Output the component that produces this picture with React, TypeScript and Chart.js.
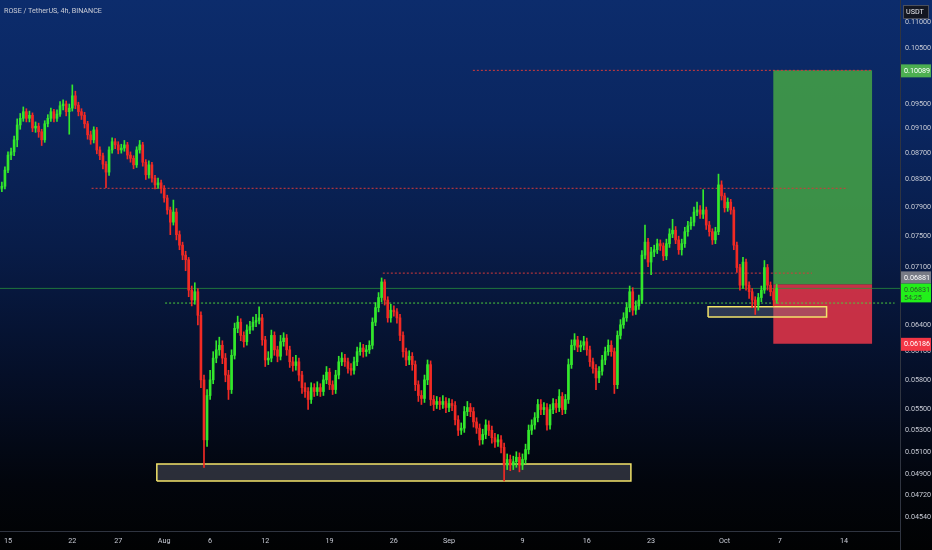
import React, { useEffect, useRef } from "react";
import { Chart, registerables } from "chart.js";

Chart.register(...registerables);

// ---------- DATA ----------
// 8-hour candles, candle 0 = 14 Jul 00:00 ; x values are days relative to 15 Jul
const FIRST_CANDLE_DAY = -1;
const CANDLE_STEP_DAYS = 1 / 3;
const FIRST_OPEN = 0.0815;

const closes = [
  0.0817, 0.082, 0.0844, 0.0867, 0.0872, 0.0891, 0.0915, 0.0926, 0.0937, 0.0926,
  0.0931, 0.091, 0.0913, 0.0904, 0.0891, 0.0917, 0.0926, 0.0937, 0.0926, 0.0933,
  0.0947, 0.095, 0.0937, 0.0943, 0.0964, 0.0948, 0.0937, 0.0931, 0.0917, 0.0899,
  0.0891, 0.0907, 0.0875, 0.0866, 0.0853, 0.0841, 0.0875, 0.0888, 0.0883, 0.0875,
  0.0878, 0.0883, 0.0867, 0.0862, 0.0852, 0.0875, 0.0883, 0.0856, 0.0837, 0.0852,
  0.0832, 0.0822, 0.0825, 0.0817, 0.0803, 0.0786, 0.0769, 0.0783, 0.0752, 0.0738,
  0.0725, 0.0719, 0.0681, 0.0669, 0.0679, 0.0651, 0.058, 0.0521, 0.0564, 0.058,
  0.0603, 0.0612, 0.0617, 0.0603, 0.0585, 0.057, 0.0606, 0.0636, 0.0643, 0.0628,
  0.0621, 0.0634, 0.0638, 0.0643, 0.0645, 0.0648, 0.0623, 0.0601, 0.0603, 0.0628,
  0.0612, 0.0605, 0.0621, 0.0625, 0.0612, 0.0599, 0.0595, 0.0599, 0.0585, 0.0572,
  0.0568, 0.056, 0.0572, 0.0568, 0.0572, 0.0568, 0.058, 0.0588, 0.0575, 0.057,
  0.0585, 0.0599, 0.0603, 0.0599, 0.0592, 0.059, 0.0599, 0.061, 0.0614, 0.061,
  0.0612, 0.0617, 0.0643, 0.066, 0.0672, 0.0691, 0.0669, 0.0648, 0.0657, 0.0655,
  0.0648, 0.0628, 0.061, 0.0601, 0.0605, 0.0596, 0.0575, 0.0564, 0.0561, 0.058,
  0.0596, 0.056, 0.0555, 0.0558, 0.0555, 0.0558, 0.0552, 0.0556, 0.0554, 0.054,
  0.053, 0.0532, 0.0548, 0.0552, 0.0548, 0.0538, 0.0532, 0.0521, 0.0526, 0.0535,
  0.053, 0.0523, 0.0519, 0.0521, 0.0514, 0.0498, 0.0503, 0.0498, 0.0501, 0.0505,
  0.0498, 0.0503, 0.0512, 0.053, 0.0535, 0.0542, 0.0555, 0.055, 0.0552, 0.0535,
  0.055, 0.0556, 0.0552, 0.0563, 0.055, 0.056, 0.0596, 0.0617, 0.0623, 0.0615,
  0.0617, 0.0621, 0.0612, 0.0599, 0.0592, 0.0582, 0.0589, 0.0601, 0.061, 0.0617,
  0.061, 0.0575, 0.0628, 0.064, 0.0648, 0.066, 0.0679, 0.0657, 0.0662, 0.0669,
  0.0725, 0.0742, 0.0716, 0.0729, 0.0732, 0.074, 0.0737, 0.0724, 0.074, 0.0753,
  0.0758, 0.0745, 0.0732, 0.074, 0.0756, 0.0764, 0.0769, 0.0783, 0.0786, 0.078,
  0.0786, 0.0765, 0.0756, 0.0745, 0.0756, 0.0822, 0.0806, 0.0789, 0.0797, 0.0786,
  0.0738, 0.0709, 0.0687, 0.0716, 0.0687, 0.0679, 0.0669, 0.0663, 0.0672, 0.0681,
  0.0709, 0.0687, 0.0679, 0.0669, 0.06831,
];

const highs = [
  0.0822, 0.0826, 0.0849, 0.0872, 0.0878, 0.0897, 0.0925, 0.0934, 0.0945, 0.0942,
  0.0938, 0.0935, 0.092, 0.0918, 0.0908, 0.0922, 0.0932, 0.0943, 0.0941, 0.094,
  0.0954, 0.0957, 0.0955, 0.095, 0.0983, 0.0972, 0.0953, 0.0942, 0.0936, 0.0921,
  0.0905, 0.0912, 0.0911, 0.088, 0.087, 0.0857, 0.088, 0.0894, 0.0893, 0.0888,
  0.0884, 0.089, 0.0887, 0.0872, 0.0866, 0.088, 0.089, 0.0887, 0.086, 0.0858,
  0.0856, 0.0836, 0.0832, 0.0829, 0.0821, 0.0807, 0.079, 0.08, 0.0788, 0.0757,
  0.0742, 0.073, 0.0722, 0.0686, 0.069, 0.0683, 0.0655, 0.0585, 0.057, 0.059,
  0.061, 0.0622, 0.0626, 0.0622, 0.0608, 0.059, 0.0612, 0.0642, 0.065, 0.0647,
  0.0632, 0.064, 0.0644, 0.0649, 0.0652, 0.0661, 0.0652, 0.0627, 0.061, 0.0634,
  0.0632, 0.0616, 0.0628, 0.0631, 0.0629, 0.0616, 0.0604, 0.0606, 0.0603, 0.0589,
  0.0577, 0.0572, 0.0577, 0.0576, 0.0578, 0.0576, 0.0585, 0.0594, 0.0592, 0.0579,
  0.059, 0.0605, 0.0609, 0.0607, 0.0603, 0.0597, 0.0604, 0.0615, 0.062, 0.0618,
  0.0617, 0.0622, 0.0648, 0.0666, 0.0678, 0.0696, 0.0694, 0.0673, 0.0664, 0.0662,
  0.0659, 0.0652, 0.0632, 0.0614, 0.0611, 0.0609, 0.06, 0.0579, 0.0569, 0.0585,
  0.0601, 0.06, 0.0564, 0.0563, 0.0562, 0.0564, 0.0562, 0.0561, 0.056, 0.0558,
  0.0544, 0.0537, 0.0553, 0.0558, 0.0556, 0.0552, 0.0542, 0.0536, 0.0531, 0.054,
  0.0539, 0.0534, 0.0527, 0.0526, 0.0525, 0.0518, 0.0508, 0.0507, 0.0506, 0.051,
  0.0509, 0.0508, 0.0517, 0.0535, 0.054, 0.0547, 0.056, 0.056, 0.0557, 0.0556,
  0.0555, 0.0561, 0.056, 0.057, 0.0567, 0.0565, 0.0602, 0.0623, 0.063, 0.0627,
  0.0622, 0.0627, 0.0625, 0.0616, 0.0603, 0.0596, 0.0594, 0.0606, 0.0615, 0.0623,
  0.0622, 0.0614, 0.0633, 0.0646, 0.0654, 0.0666, 0.0686, 0.0684, 0.0668, 0.0675,
  0.0731, 0.0765, 0.0747, 0.0735, 0.0738, 0.0746, 0.0745, 0.0741, 0.0746, 0.076,
  0.0773, 0.0763, 0.075, 0.0746, 0.0762, 0.077, 0.0776, 0.079, 0.0797, 0.0792,
  0.0815, 0.079, 0.077, 0.076, 0.0762, 0.0838, 0.0828, 0.081, 0.0803, 0.0801,
  0.079, 0.0742, 0.0713, 0.0722, 0.072, 0.0691, 0.0683, 0.0673, 0.0677, 0.0686,
  0.0718, 0.0713, 0.0691, 0.0683, 0.0688,
];

const lows = [
  0.081, 0.0812, 0.0816, 0.084, 0.086, 0.0866, 0.088, 0.0908, 0.0921, 0.092,
  0.092, 0.0904, 0.0903, 0.0895, 0.0882, 0.0887, 0.0912, 0.0921, 0.092, 0.0921,
  0.0929, 0.094, 0.093, 0.09, 0.0938, 0.0942, 0.093, 0.0924, 0.091, 0.0892,
  0.0884, 0.0886, 0.0869, 0.086, 0.0846, 0.0818, 0.0836, 0.087, 0.0877, 0.0869,
  0.087, 0.0873, 0.0861, 0.0856, 0.0846, 0.0848, 0.087, 0.085, 0.083, 0.0832,
  0.0826, 0.0816, 0.0817, 0.081, 0.0797, 0.078, 0.0752, 0.0765, 0.0745, 0.0732,
  0.0719, 0.0705, 0.0673, 0.0662, 0.0664, 0.064, 0.0572, 0.0496, 0.0515, 0.056,
  0.0576, 0.0598, 0.0606, 0.0597, 0.0578, 0.056, 0.0566, 0.0602, 0.0631, 0.0622,
  0.0615, 0.0617, 0.063, 0.0634, 0.0638, 0.0641, 0.0617, 0.0594, 0.0596, 0.0599,
  0.0606, 0.0599, 0.0601, 0.0616, 0.0606, 0.0593, 0.0589, 0.059, 0.0579, 0.0566,
  0.0562, 0.055, 0.0556, 0.0563, 0.0564, 0.0563, 0.0564, 0.0576, 0.057, 0.0565,
  0.0566, 0.0581, 0.0595, 0.0594, 0.0587, 0.0585, 0.0586, 0.0595, 0.0606, 0.0604,
  0.0605, 0.0608, 0.0613, 0.0639, 0.0655, 0.0667, 0.0663, 0.0643, 0.0643, 0.065,
  0.0642, 0.0622, 0.0604, 0.0595, 0.0596, 0.059, 0.0569, 0.0558, 0.0555, 0.0557,
  0.0575, 0.0554, 0.0549, 0.0551, 0.055, 0.0551, 0.0547, 0.0548, 0.0549, 0.0535,
  0.0525, 0.0526, 0.0528, 0.0544, 0.0543, 0.0533, 0.0527, 0.0516, 0.0517, 0.0522,
  0.0525, 0.0518, 0.0514, 0.0515, 0.0509, 0.0484, 0.0494, 0.0493, 0.0494, 0.0496,
  0.0492, 0.0494, 0.0499, 0.0508, 0.0526, 0.0531, 0.0538, 0.0545, 0.0545, 0.053,
  0.0531, 0.0546, 0.0547, 0.0548, 0.0545, 0.0546, 0.0556, 0.0592, 0.0612, 0.061,
  0.061, 0.0612, 0.0606, 0.0594, 0.0587, 0.057, 0.0577, 0.0585, 0.0596, 0.0606,
  0.0605, 0.0566, 0.0571, 0.0624, 0.0636, 0.0644, 0.0655, 0.0651, 0.0652, 0.0658,
  0.0665, 0.072, 0.071, 0.07, 0.0723, 0.0727, 0.0731, 0.0718, 0.0719, 0.0735,
  0.0748, 0.074, 0.0726, 0.0725, 0.0735, 0.075, 0.0759, 0.0764, 0.0778, 0.0774,
  0.0774, 0.0759, 0.075, 0.0739, 0.074, 0.0752, 0.08, 0.0783, 0.0784, 0.078,
  0.0732, 0.0703, 0.0681, 0.0683, 0.0681, 0.0671, 0.066, 0.0652, 0.0657, 0.0667,
  0.0677, 0.0681, 0.0674, 0.0662, 0.0665,
];

const xTickDays = [0, 7, 12, 17, 22, 28, 35, 42, 48, 56, 63, 70, 78, 84, 91];
const xTickLabels = ["15", "22", "27", "Aug", "6", "12", "19", "26", "Sep", "9", "16", "23", "Oct", "7", "14"];
const yTickValues = [
  0.11, 0.105, 0.095, 0.091, 0.087, 0.083, 0.079, 0.075, 0.071, 0.064, 0.061,
  0.058, 0.055, 0.053, 0.051, 0.049, 0.0472, 0.0454,
];

const targetPrice = 0.10089;
const entryPrice = 0.06881;
const stopPrice = 0.06186;
const lastPrice = 0.06831;
const timerLabel = "54:25";
const currencyLabel = "USDT";
const titleText = "ROSE / TetherUS, 4h, BINANCE";

const positionDays = [83.3, 94.05];
const supportZoneDays = [16.2, 67.8];
const supportZonePrices = [0.0484, 0.0499];
const retestZoneDays = [76.2, 89.1];
const retestZonePrices = [0.0649, 0.0661];
const redLevelPrices = [0.10089, 0.0817, 0.0702];
const redLevelDays = [
  [50.6, 94.05],
  [9.1, 91.4],
  [40.8, 87.5],
];
const greenLevelPrice = 0.06654;
const greenLevelDays = [17.1, 96.5];

const X_MIN = -0.87;
const X_MAX = 97.09;
const Y_MIN = 0.04426;
const Y_MAX = 0.11442;

// ---------- STYLE ----------
const UP = "#33e82c";
const DOWN = "#f22a24";
const TEXT = "#c9ccd6";
const AXIS_LINE = "#2f3440";
const FONT = "Roboto";
const FS = 7.2;

const rectPath = (x1: number, x2: number, lo: number, hi: number) => [
  { x: x1, y: lo },
  { x: x1, y: hi },
  { x: x2, y: hi },
  { x: x2, y: lo },
  { x: x1, y: lo },
];

const axisLabelsPlugin = {
  id: "axisLabels",
  afterDraw(chart: any) {
    const { ctx, chartArea, scales } = chart;
    const ys = scales.y;
    const left = chartArea.right;
    const w = chart.width - left;
    ctx.save();
    ctx.strokeStyle = AXIS_LINE;
    ctx.lineWidth = 1;
    ctx.beginPath();
    ctx.moveTo(left + 0.5, chartArea.bottom);
    ctx.lineTo(left + 0.5, chart.height);
    ctx.stroke();

    ctx.font = `${FS}px ${FONT}`;
    ctx.textBaseline = "middle";
    ctx.textAlign = "left";
    const box = (top: number, h: number, bg: string, lines: string[], color: string) => {
      ctx.fillStyle = bg;
      ctx.fillRect(left + 1, top, w - 2, h);
      ctx.fillStyle = color;
      lines.forEach((t, i) => {
        ctx.fillText(t, left + 4, top + 6.5 + i * 8);
      });
    };
    const ty = ys.getPixelForValue(targetPrice);
    box(ty - 6, 13, "#4caf50", [targetPrice.toFixed(5)], "#ffffff");
    const sy = ys.getPixelForValue(stopPrice);
    box(sy - 6, 13, "#f23645", [stopPrice.toFixed(5)], "#ffffff");
    const ly = ys.getPixelForValue(lastPrice);
    const lastTop = ly - 5;
    box(lastTop, 19, "#22f01a", [lastPrice.toFixed(5), timerLabel], "#2c5a2c");
    box(lastTop - 12, 12, "#787b86", [entryPrice.toFixed(5)], "#ffffff");

    // currency box
    ctx.fillStyle = "#131722";
    ctx.fillRect(left + 3, 5, w - 6, 14);
    ctx.strokeStyle = "#4a4f5c";
    ctx.strokeRect(left + 3.5, 5.5, w - 7, 13);
    ctx.fillStyle = "#e6e8ee";
    ctx.fillText(currencyLabel, left + 6, 12.5);
    ctx.restore();
  },
};

export default function App() {
  const canvasRef = useRef<HTMLCanvasElement | null>(null);

  useEffect(() => {
    document.body.style.margin = "0";
    const canvas = canvasRef.current;
    if (!canvas) return;

    const xs = closes.map((_, i) => FIRST_CANDLE_DAY + i * CANDLE_STEP_DAYS);
    const opens = closes.map((_, i) => (i === 0 ? FIRST_OPEN : closes[i - 1]));
    const colors = closes.map((c, i) => (c >= opens[i] ? UP : DOWN));

    const levelLine = (price: number, span: number[], color: string, order: number) => ({
      type: "line" as const,
      data: [
        { x: span[0], y: price },
        { x: span[1], y: price },
      ],
      borderColor: color,
      borderWidth: 1,
      borderDash: [2, 2],
      pointRadius: 0,
      fill: false,
      order,
    });

    const datasets: any[] = [
      {
        type: "line",
        data: rectPath(positionDays[0], positionDays[1], entryPrice, targetPrice),
        backgroundColor: "rgba(67,160,71,0.88)",
        borderWidth: 0,
        pointRadius: 0,
        fill: "shape",
        order: 30,
      },
      {
        type: "line",
        data: rectPath(positionDays[0], positionDays[1], stopPrice, entryPrice),
        backgroundColor: "rgba(226,52,72,0.88)",
        borderWidth: 0,
        pointRadius: 0,
        fill: "shape",
        order: 30,
      },
      {
        type: "line",
        data: rectPath(supportZoneDays[0], supportZoneDays[1], supportZonePrices[0], supportZonePrices[1]),
        backgroundColor: "rgba(120,124,138,0.35)",
        borderColor: "#f3e46a",
        borderWidth: 1.5,
        pointRadius: 0,
        fill: "shape",
        order: 25,
      },
      {
        type: "line",
        data: rectPath(retestZoneDays[0], retestZoneDays[1], retestZonePrices[0], retestZonePrices[1]),
        backgroundColor: "rgba(120,124,138,0.35)",
        borderColor: "#f3e46a",
        borderWidth: 1.5,
        pointRadius: 0,
        fill: "shape",
        order: 24,
      },
      {
        type: "line",
        data: [
          { x: X_MIN, y: lastPrice },
          { x: X_MAX, y: lastPrice },
        ],
        borderColor: "rgba(40,150,60,0.75)",
        borderWidth: 1,
        pointRadius: 0,
        fill: false,
        order: 20,
      },
      ...redLevelPrices.map((p, i) => levelLine(p, redLevelDays[i], "#d63a3a", 18)),
      levelLine(greenLevelPrice, greenLevelDays, "#4ccf3c", 18),
      {
        type: "bar",
        data: xs.map((x, i) => ({ x, y: [lows[i], highs[i]] })),
        backgroundColor: colors,
        barThickness: 1,
        grouped: false,
        borderWidth: 0,
        order: 2,
      },
      {
        type: "bar",
        data: xs.map((x, i) => ({ x, y: [opens[i], closes[i]] })),
        backgroundColor: colors,
        barThickness: 2,
        minBarLength: 1,
        grouped: false,
        borderWidth: 0,
        order: 1,
      },
    ];

    const chart = new Chart(canvas, {
      type: "bar",
      data: { datasets },
      plugins: [axisLabelsPlugin],
      options: {
        animation: false,
        responsive: false,
        events: [],
        layout: { padding: 0 },
        plugins: { legend: { display: false }, tooltip: { enabled: false }, title: { display: false } },
        scales: {
          x: {
            type: "linear",
            min: X_MIN,
            max: X_MAX,
            offset: false,
            grid: { display: false, drawTicks: false, tickLength: 0 },
            border: { display: true, color: AXIS_LINE },
            afterBuildTicks: (s: any) => {
              s.ticks = xTickDays.map((v) => ({ value: v }));
            },
            afterFit: (s: any) => {
              s.height = 19;
              s.paddingLeft = 0;
              s.paddingRight = 0;
            },
            ticks: {
              autoSkip: false,
              maxRotation: 0,
              padding: 6,
              color: TEXT,
              font: { family: FONT, size: FS },
              callback: (v: any) => {
                const i = xTickDays.indexOf(Number(v));
                return i >= 0 ? xTickLabels[i] : "";
              },
            },
          },
          y: {
            type: "logarithmic",
            position: "right",
            min: Y_MIN,
            max: Y_MAX,
            grid: { display: false, drawTicks: false, tickLength: 0 },
            border: { display: true, color: AXIS_LINE },
            afterBuildTicks: (s: any) => {
              s.ticks = yTickValues.map((v) => ({ value: v }));
            },
            afterFit: (s: any) => {
              s.width = 32;
              s.paddingTop = 0;
              s.paddingBottom = 0;
            },
            ticks: {
              autoSkip: false,
              padding: 5,
              color: TEXT,
              font: { family: FONT, size: FS },
              callback: (v: any) => Number(v).toFixed(5),
            },
          },
        },
      } as any,
    });
    return () => chart.destroy();
  }, []);

  return (
    <div
      style={{
        position: "relative",
        width: 932,
        height: 550,
        overflow: "hidden",
        background:
          "linear-gradient(180deg, #0c2c6c 0%, #0a2660 22%, #081c48 45%, #050f28 68%, #02050c 88%, #010203 100%)",
      }}
    >
      <canvas ref={canvasRef} width={932} height={550} style={{ display: "block" }} />
      <div
        style={{
          position: "absolute",
          left: 4,
          top: 6,
          fontFamily: FONT,
          fontSize: FS,
          color: TEXT,
          whiteSpace: "nowrap",
        }}
      >
        {titleText}
      </div>
    </div>
  );
}
